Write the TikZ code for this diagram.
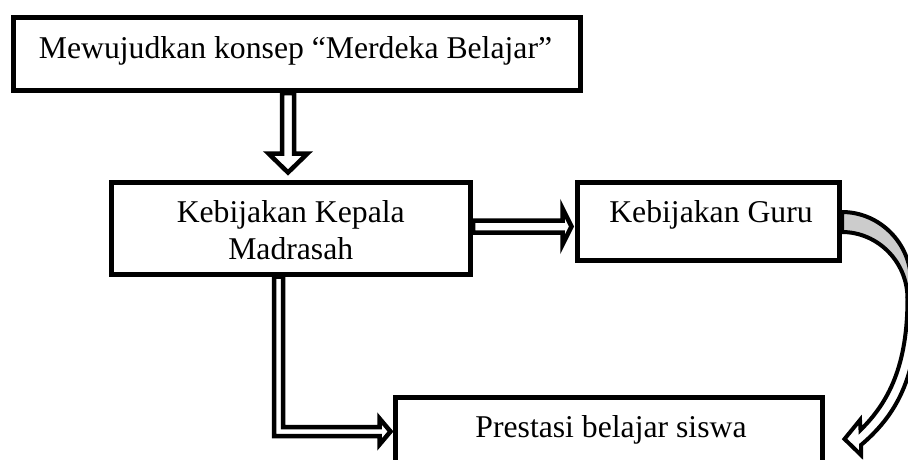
\documentclass[tikz,border=0pt]{standalone}
\usepackage{fontspec}
\setmainfont{Liberation Serif}
\usetikzlibrary{calc}
\pgfdeclarelayer{bg}
\pgfsetlayers{bg,main}
\begin{document}
\begin{tikzpicture}[x=1pt,y=-1pt,
  box/.style={draw, line width=5pt, fill=white, inner sep=0pt},
  txt/.style={font=\fontsize{31.7}{37}\selectfont, inner sep=0pt, anchor=base},
  blockarrow/.style={draw, line width=4.5pt, fill=white, line join=miter, miter limit=10},
  curvearrow/.style={draw, line width=4pt, line join=miter, miter limit=10},
  bandfill/.style={fill=gray!40}]
\useasboundingbox (0,0) rectangle (908,459);
\clip (0,0) rectangle (908,459);

% boxes
\node[box, minimum width=567pt, minimum height=73pt] (b1) at (297,54) {};
\node[box, minimum width=359.5pt, minimum height=91.5pt] (b2) at (290.75,228.25) {};
\node[box, minimum width=262pt, minimum height=78pt] (b3) at (708.5,221.5) {};
\node[box, minimum width=427pt, minimum height=82.5pt] (b4) at (609,438.75) {};

% texts
\node[txt] (t1) at ($(b1.center)+(-1.5,4)$) {Mewujudkan konsep “Merdeka Belajar”};
\node[txt] (t2a) at ($(b2.north)+(0,42.5)$) {Kebijakan Kepala};
\node[txt] (t2b) at ($(b2.north)+(0,79.5)$) {Madrasah};
\node[txt] (t3) at ($(b3.north)+(2.5,42.5)$) {Kebijakan Guru};
\node[txt] (t4) at ($(b4.north)+(2,42.5)$) {Prestasi belajar siswa};

% helper coordinates
\coordinate (xA) at (288,0);
\coordinate (yB) at (0,226.5);
\coordinate (cL) at (278.5,431.5);

\begin{pgfonlayer}{bg}
% b1 -> b2
\draw[blockarrow] ($(b1.south -| xA)+(-6,0)$) -- ($(b2.north -| xA)+(-6,-26.5)$) -- ++(-13.5,0)
  -- ($(b2.north -| xA)+(0,-7.5)$) -- ($(b2.north -| xA)+(19.5,-26.5)$) -- ++(-13.5,0)
  -- ($(b1.south -| xA)+(6,0)$) -- cycle;
% b2 -> b3
\draw[blockarrow] ($(b2.east |- yB)+(0,-6)$) -- ($(b3.west |- yB)+(-12.5,-6)$) -- ++(0,-12)
  -- ($(b3.west |- yB)+(-3.5,0)$) -- ($(b3.west |- yB)+(-12.5,18)$) -- ++(0,-12)
  -- ($(b2.east |- yB)+(0,6)$) -- cycle;
% b2 -> b4 (L-shaped)
\draw[blockarrow] ($(b2.south -| cL)+(-4.5,0)$) -- ($(cL)+(-4.5,4.5)$)
  -- ($(b4.west |- cL)+(-13.5,4.5)$) -- ++(0,8.5) -- ($(b4.west |- cL)+(-2.5,0)$)
  -- ($(b4.west |- cL)+(-13.5,-13)$) -- ++(0,8.5) -- ($(cL)+(4.5,-4.5)$)
  -- ($(b2.south -| cL)+(4.5,0)$) -- cycle;
% b3 -> b4 (curved)
\coordinate (ct) at ($(b3.east)+(0,-9.5)$);
\coordinate (cb) at ($(b3.east)+(0,10.5)$);
\draw[curvearrow, bandfill] (ct) .. controls (879.7,212) and (911,243.3) .. (911,282)
  -- (911,298.5) -- (907.5,298.5) .. controls (907.5,261.8) and (877.7,232) .. (cb) -- cycle;
\coordinate (tip) at ($(b4.east)+(19.5,0.25)$);
\draw[curvearrow, fill=white] (907.5,298.5) .. controls (907.5,365) and (889,402) .. (860.5,430)
  -- (860,420) -- (tip) -- (861,455) -- (861,445)
  .. controls (900,412) and (918,372) .. (918,298.5) -- cycle;
\end{pgfonlayer}
\end{tikzpicture}
\end{document}
